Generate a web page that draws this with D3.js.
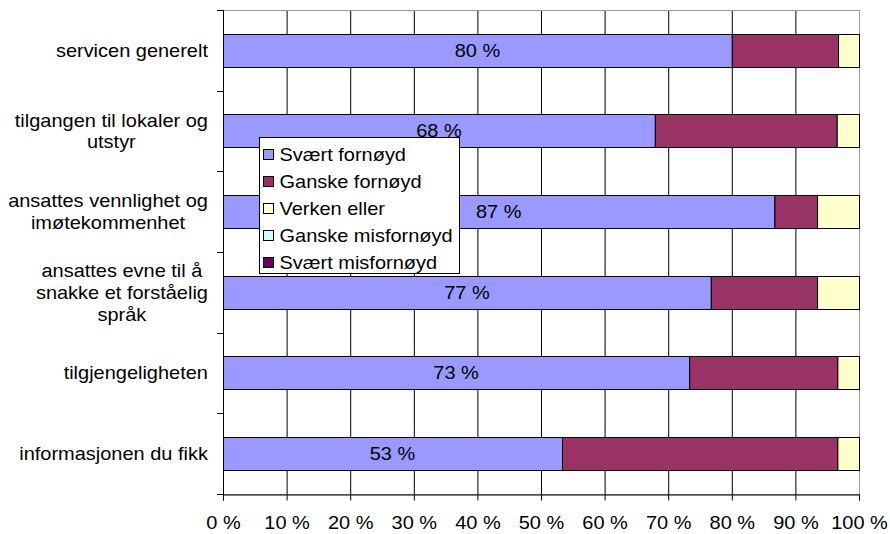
<!DOCTYPE html>
<html>
<head>
<meta charset="utf-8">
<script src="https://cdn.jsdelivr.net/npm/d3@7"></script>
<style>
  body { margin: 0; background: #fff; }
  svg text { font-family: "Liberation Sans", Arial, sans-serif; fill: #000; }
</style>
</head>
<body>
<div id="chart"></div>
<script>
// categories, top to bottom (each entry is the wrapped lines of the label)
const categories = [
  ["servicen generelt"],
  ["tilgangen til lokaler og", "utstyr"],
  ["ansattes vennlighet og", "imøtekommenhet"],
  ["ansattes evne til å", "snakke et forståelig", "språk"],
  ["tilgjengeligheten"],
  ["informasjonen du fikk"],
];

const seriesNames = [
  "Svært fornøyd",
  "Ganske fornøyd",
  "Verken eller",
  "Ganske misfornøyd",
  "Svært misfornøyd",
];
const seriesColors = ["#9999ff", "#993366", "#ffffcc", "#ccffff", "#660066"];

// shares in percent, one value per category
const sværtFornøyd = [80.0, 67.9, 86.7, 76.7, 73.3, 53.3];
const ganskeFornøyd = [16.7, 28.6, 6.7, 16.7, 23.3, 43.3];
const verkenEller = [3.3, 3.5, 6.6, 6.6, 3.4, 3.4];
const ganskeMisfornøyd = [0, 0, 0, 0, 0, 0];
const sværtMisfornøyd = [0, 0, 0, 0, 0, 0];

const xTicks = [0, 10, 20, 30, 40, 50, 60, 70, 80, 90, 100];

const W = 890, H = 534;
const plot = { left: 223, right: 859, top: 10, bottom: 494 };
const fontSize = 18;
const sx = 1.11; // the original text is a bit wider than it is tall

const svg = d3.select("#chart").append("svg")
  .attr("width", W).attr("height", H);

// places text at (x, y) with the horizontal stretch
const place = (sel, fx, fy) =>
  sel.attr("transform", (d, i) => `translate(${fx(d, i)},${fy(d, i)}) scale(${sx},1)`);

const keys = categories.map((c, i) => i);
const rows = keys.map((i) => ({
  i,
  vals: [sværtFornøyd[i], ganskeFornøyd[i], verkenEller[i], ganskeMisfornøyd[i], sværtMisfornøyd[i]],
}));

const x = d3.scaleLinear().domain([0, 100]).range([plot.left, plot.right]);
const y = d3.scaleBand().domain(keys).range([plot.top, plot.bottom]).paddingInner(0.59).paddingOuter(0.295);

// vertical gridlines
svg.append("g")
  .selectAll("line")
  .data(xTicks.slice(1, -1))
  .join("line")
  .attr("x1", (d) => x(d) + 0.5).attr("x2", (d) => x(d) + 0.5)
  .attr("y1", plot.top).attr("y2", plot.bottom)
  .attr("stroke", "#000").attr("stroke-width", 1);

// plot area border (grey)
svg.append("rect")
  .attr("x", plot.left + 0.5).attr("y", plot.top + 0.5)
  .attr("width", plot.right - plot.left).attr("height", plot.bottom - plot.top)
  .attr("fill", "none").attr("stroke", "#999");

// stacked bars
const stack = rows.map((r) => {
  let acc = 0;
  return r.vals.map((v, k) => {
    const seg = { i: r.i, k, x0: acc, x1: acc + v, v };
    acc += v;
    return seg;
  });
});

svg.append("g")
  .selectAll("g")
  .data(stack)
  .join("g")
  .selectAll("rect")
  .data((d) => d.filter((s) => s.v > 0))
  .join("rect")
  .attr("x", (d) => x(d.x0) + 0.5)
  .attr("y", (d) => Math.round(y(d.i)) + 0.5)
  .attr("width", (d) => x(d.x1) - x(d.x0))
  .attr("height", Math.round(y.bandwidth()))
  .attr("fill", (d) => seriesColors[d.k])
  .attr("stroke", "#000").attr("stroke-width", 1);

// data labels in the first segment
svg.append("g")
  .selectAll("text")
  .data(rows)
  .join("text")
  .call(place, (d) => x(d.vals[0] / 2), (d) => y(d.i) + y.bandwidth() / 2)
  .attr("dy", "0.36em")
  .attr("text-anchor", "middle")
  .attr("font-size", fontSize)
  .text((d) => Math.round(d.vals[0]) + " %");

// x axis
const xAxis = svg.append("g")
  .attr("transform", `translate(0,${plot.bottom + 0.5})`)
  .call(d3.axisBottom(x).tickValues(xTicks).tickSize(6).tickFormat((d) => d + " %"));
xAxis.select(".domain").attr("stroke", "#000");
xAxis.selectAll(".tick line").attr("stroke", "#000");
xAxis.selectAll(".tick text")
  .attr("y", null).attr("dy", "0.36em")
  .attr("transform", `translate(0,28) scale(${sx},1)`)
  .attr("font-size", fontSize)
  .attr("font-family", '"Liberation Sans", Arial, sans-serif');

// y axis line with ticks at band boundaries
const bounds = keys.map((k) => y(k) - (y.step() * y.paddingInner()) / 2).concat([plot.bottom]);
bounds[0] = plot.top;
svg.append("line")
  .attr("x1", plot.left + 0.5).attr("x2", plot.left + 0.5)
  .attr("y1", plot.top).attr("y2", plot.bottom + 6)
  .attr("stroke", "#000");
svg.append("g")
  .selectAll("line")
  .data(bounds)
  .join("line")
  .attr("x1", plot.left - 6).attr("x2", plot.left)
  .attr("y1", (d) => Math.round(d) + 0.5).attr("y2", (d) => Math.round(d) + 0.5)
  .attr("stroke", "#000");

// category labels: block right-aligned, lines centred within the block
const lineH = 21.7;
const labels = svg.append("g")
  .selectAll("g")
  .data(categories)
  .join("g");
labels.each(function (lines, i) {
  const g = d3.select(this);
  const cy = y(i) + y.bandwidth() / 2;
  const texts = g.selectAll("text").data(lines).join("text")
    .attr("font-size", fontSize)
    .attr("text-anchor", "middle")
    .attr("dy", "0.36em")
    .text((d) => d);
  let maxW = 0;
  texts.each(function () { maxW = Math.max(maxW, this.getComputedTextLength() * sx); });
  texts.call(place, () => 208 - maxW / 2, (d, j) => cy + (j - (lines.length - 1) / 2) * lineH);
});

// legend
const legend = svg.append("g").attr("transform", "translate(259.5,137.5)");
legend.append("rect")
  .attr("width", 200).attr("height", 136)
  .attr("fill", "#fff").attr("stroke", "#000");
const items = legend.selectAll("g.item")
  .data(seriesNames)
  .join("g")
  .attr("class", "item")
  .attr("transform", (d, i) => `translate(4,${17 + i * 27})`);
items.append("rect")
  .attr("x", 0).attr("y", -5)
  .attr("width", 10).attr("height", 10)
  .attr("fill", (d, i) => seriesColors[i])
  .attr("stroke", "#000");
items.append("text")
  .call(place, () => 16, () => 0)
  .attr("dy", "0.36em")
  .attr("font-size", fontSize)
  .text((d) => d);
</script>
</body>
</html>
